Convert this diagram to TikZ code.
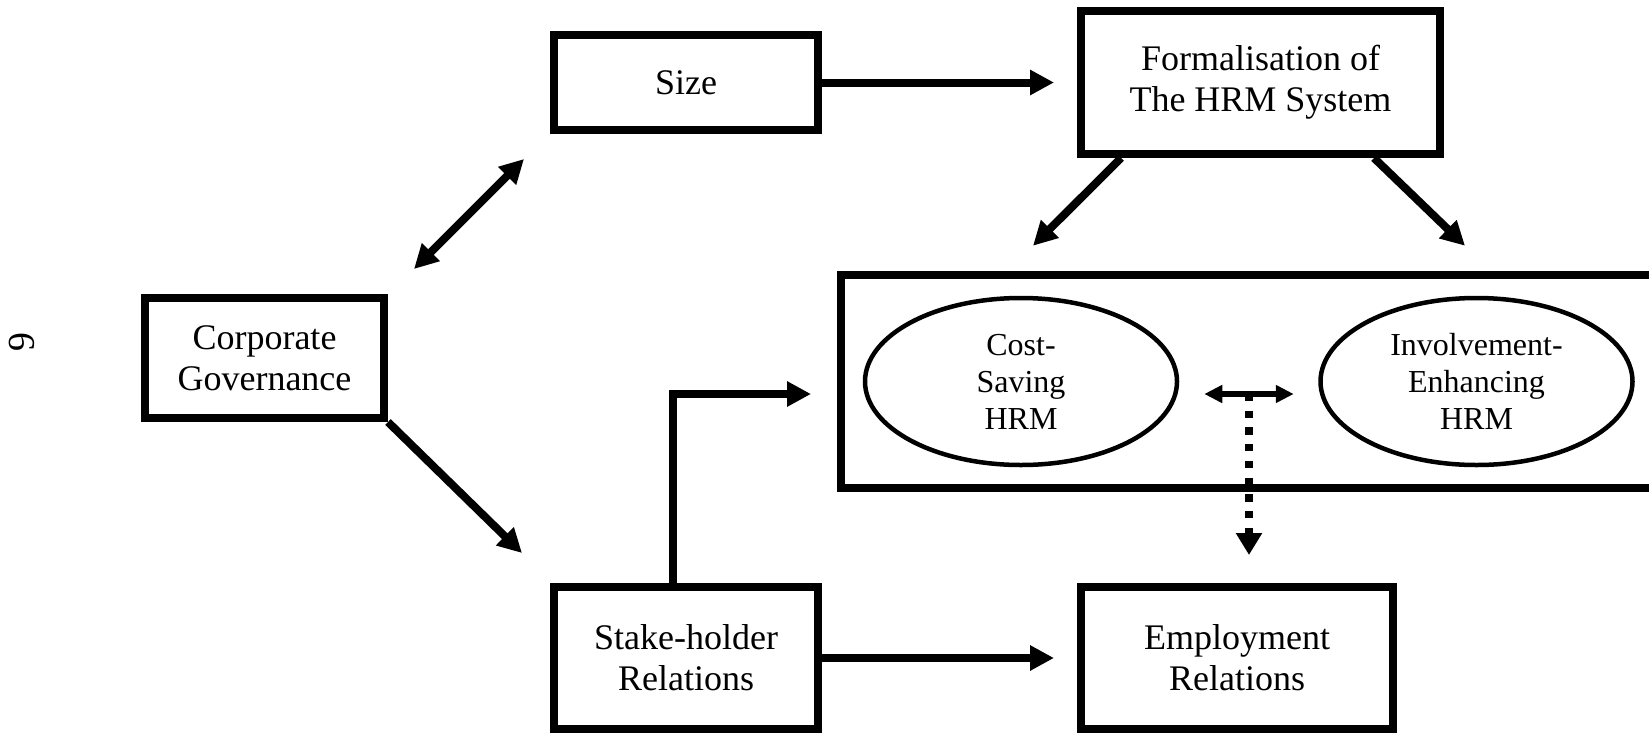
\documentclass[tikz,border=0pt]{standalone}
\usepackage{fontspec}
\setmainfont{Liberation Serif}
\usetikzlibrary{arrows.meta,shapes.geometric,calc}
\begin{document}
\begin{tikzpicture}[x=0.5pt,y=-0.5pt,
    box/.style={draw,line width=4pt,inner sep=0pt,align=center,font=\fontsize{18}{20.5}\selectfont},
    oval/.style={draw,ellipse,line width=2.25pt,inner sep=0pt,minimum width=156pt,minimum height=83.5pt,align=center,font=\fontsize{16}{18.5}\selectfont},
    arr/.style={line width=4pt,-{Triangle[length=12pt,width=12pt]}},
    dbl/.style={line width=4pt,{Triangle[length=12pt,width=12pt]}-{Triangle[length=12pt,width=12pt]}},
    dblthin/.style={line width=3pt,{Triangle[length=9pt,width=8.5pt]}-{Triangle[length=9pt,width=8.5pt]}},
    dotarr/.style={line width=4pt,dash pattern=on 3.65pt off 4.7pt,-{Triangle[length=11pt,width=12.5pt]}}]
    \useasboundingbox (0,0) rectangle (1649,734);
    \clip (0,0) rectangle (1649,734);
% boxes
    \node[box,minimum width=132pt,minimum height=47.5pt] (size) at (686,82.5) {Size};
    \node[box,minimum width=179.5pt,minimum height=71.5pt] (formal) at (1260.5,82.5) {Formalisation of\\The HRM System};
    \node[box,minimum width=119.5pt,minimum height=60pt] (corp) at (264.5,358) {Corporate\\Governance};
    \node[box,minimum width=132pt,minimum height=71pt] (stake) at (686,658) {Stake-holder\\Relations};
    \node[box,minimum width=156pt,minimum height=71pt] (employ) at (1237,658) {Employment\\Relations};
    \node[draw,line width=4pt,inner sep=0pt,minimum width=429.5pt,minimum height=106.5pt] (hrm) at (1270.5,381.5) {};
    \node[oval] (cost) at (1021,381.5) {Cost-\\Saving\\HRM};
    \node[oval] (inv) at (1476.5,381.5) {Involvement-\\Enhancing\\HRM};
    \node[rotate=-90,font=\fontsize{19}{19}\selectfont] (page) at (21.5,342) {6};
% arrows
    \draw[arr,shorten >=11.5pt] (size.east) -- (formal.west);
    \draw[arr,shorten >=11.5pt] (stake.east) -- (employ.west);
    \draw[dbl] ([shift={(26,-25)}]corp.north east) -- ([shift={(-26,25)}]size.south west);
    \draw[arr] (corp.south east) -- ([shift={(-28,-30)}]stake.north west);
    \draw[arr] ([xshift=22pt]formal.south west) -- ([shift={(12,-50)}]cost.north);
    \draw[arr] ([xshift=-35pt]formal.south east) -- ([shift={(-11.5,-50)}]inv.north);
    \draw[arr] ([xshift=-6.5pt]stake.north) |- ([shift={(-26,12.5)}]hrm.west);
    \coordinate (l) at ([shift={(25,12.5)}]cost.east);
    \coordinate (r) at ([shift={(-24.5,12.5)}]inv.west);
    \draw[dblthin] (l) -- (r);
    \coordinate (mid) at ($(l)!0.5!(r)$);
    \coordinate (drop) at ([yshift=14pt]employ.north);
    \draw[dotarr] (mid) -- (mid |- drop);
\end{tikzpicture}
\end{document}
